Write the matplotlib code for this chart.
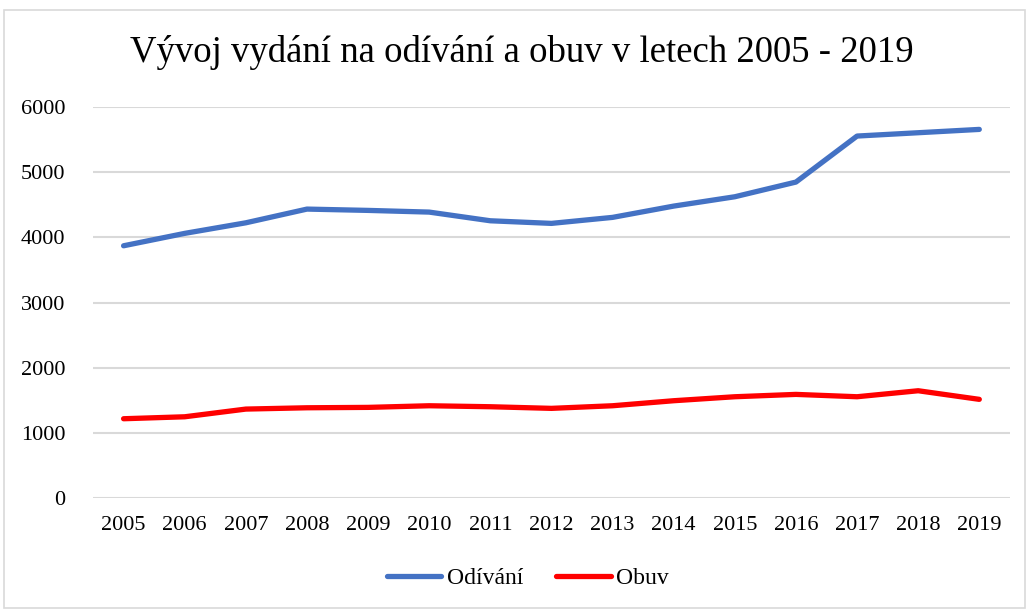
import matplotlib
matplotlib.use("Agg")
import matplotlib.pyplot as plt
from matplotlib.patches import Rectangle

# Data
years = ["2005", "2006", "2007", "2008", "2009", "2010", "2011", "2012",
         "2013", "2014", "2015", "2016", "2017", "2018", "2019"]
odivani = [3870, 4060, 4222, 4432, 4412, 4386, 4253, 4213,
           4305, 4478, 4621, 4846, 5551, 5602, 5653]
obuv = [1220, 1250, 1368, 1388, 1394, 1419, 1404, 1379,
        1419, 1496, 1557, 1593, 1557, 1649, 1517]

plt.rcParams['font.family'] = ['Liberation Serif', 'DejaVu Serif']

fig = plt.figure(figsize=(10.29, 6.10), dpi=100)
ax = fig.add_axes([0.0904, 0.183, 0.891, 0.642])

x = range(len(years))
ax.plot(x, odivani, color='#4472c4', linewidth=3.8, solid_capstyle='round', label='Odívání')
ax.plot(x, obuv, color='#ff0000', linewidth=3.8, solid_capstyle='round', label='Obuv')

ax.set_xlim(-0.5, len(years) - 0.5)
ax.set_ylim(0, 6000)
ax.set_yticks(range(0, 6001, 1000))
ax.set_xticks(list(x))
ax.set_xticklabels(years)
ax.tick_params(axis='both', length=0, labelsize=16, colors='black')
ax.tick_params(axis='y', pad=20)
ax.tick_params(axis='x', pad=13)
ax.grid(axis='y', color='#d9d9d9', linewidth=1.5)
ax.set_axisbelow(True)
for s in ax.spines.values():
    s.set_visible(False)

fig.suptitle('Vývoj vydání na odívání a obuv v letech 2005 - 2019', fontsize=26.5,
             x=0.507, y=0.942)

fig.legend(loc='center', bbox_to_anchor=(0.513, 0.052), ncol=2, frameon=False,
           fontsize=17, handlelength=2.3, handletextpad=0.25, columnspacing=1.4)

# light border around the chart area
fig.patches.append(Rectangle((4 / 1029, 0.003), 1021 / 1029, 1 - 10 / 610 - 0.003,
                             transform=fig.transFigure, fill=False,
                             edgecolor='#d9d9d9', linewidth=1.2))

fig.savefig('out.png', dpi=100)
